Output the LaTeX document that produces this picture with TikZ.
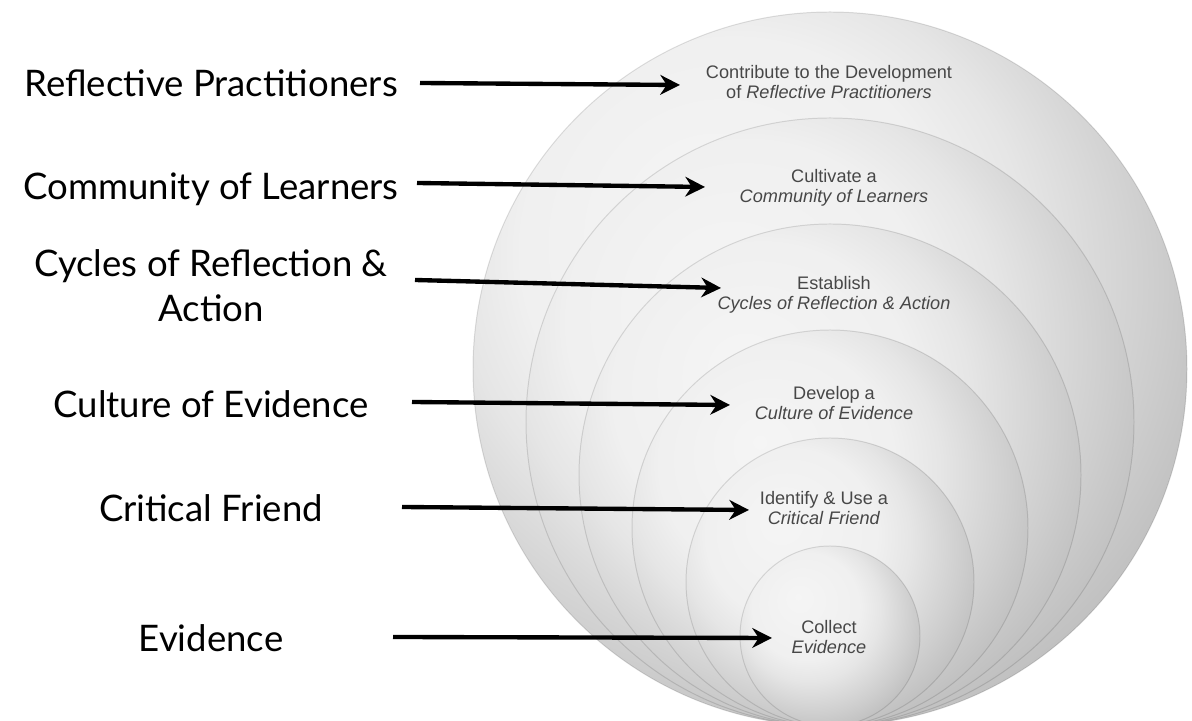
\documentclass[tikz,border=0pt]{standalone}
\usepackage{fontspec}
\setmainfont{Lato}
\newfontfamily\arialfont{Liberation Sans}
\usetikzlibrary{positioning,arrows.meta}
\pgfdeclareradialshading{orb}{\pgfpoint{-9bp}{11bp}}{color(0bp)=(black!4); color(15bp)=(black!6); color(20bp)=(black!10); color(27.5bp)=(black!19); color(36bp)=(black!30); color(42.5bp)=(black!36); color(60bp)=(black!38)}

\begin{document}
\begin{tikzpicture}[x=0.025cm,y=0.025cm,
    lbl/.style={font=\fontsize{26}{32}\selectfont, align=center, anchor=base},
    ring/.style={draw=black, draw opacity=0.12, line width=0.7pt, shading=orb},
    stage/.style={font=\arialfont\fontsize{12.9}{14}\selectfont, text=black!72, align=center},
    arr/.style={line width=3.1pt, -{Stealth[length=14pt,width=14pt]}}]
    \useasboundingbox (0,0) rectangle (1192,721);

    % Nested circles, touching at the bottom
    \foreach \r in {357,304,251,198,144,90}
        \shadedraw[ring] (830,\r-5) circle[radius=\r];

    % Stages inside the circles
    \node[stage] (dev) at (829,639) {Contribute to the Development\\of \textit{Reflective Practitioners}};
    \node[stage] (cult) at (834,533) {Cultivate a\\\textit{Community of Learners}};
    \node[stage] (est) at (834,426) {Establish\\\textit{Cycles of Reflection \& Action}};
    \node[stage] (cev) at (834,318) {Develop a\\\textit{Culture of Evidence}};
    \node[stage] (idf) at (824,213) {Identify \& Use a\\\textit{Critical Friend}};
    \node[stage] (col) at (829,84) {Collect\\\textit{Evidence}};

    % Labels on the left
    \node[lbl] (refl) at (211,624) {Reflective Practitioners};
    \node[lbl] (comm) at (211,521) {Community of Learners};
    \node[lbl] (cycl) at (211,399) {Cycles of Reflection \&\\Action};
    \node[lbl] (cult) at (211,303) {Culture of Evidence};
    \node[lbl] (crit) at (211,199) {Critical Friend};
    \node[lbl] (evid) at (211,69) {Evidence};

    % Arrows
    \coordinate (s1) at (420,638); \coordinate (e1) at (680,636);
    \coordinate (s2) at (417,538); \coordinate (e2) at (705,534);
    \coordinate (s3) at (415,441); \coordinate (e3) at (721,433);
    \coordinate (s4) at (412,319); \coordinate (e4) at (730,316);
    \coordinate (s5) at (402,214); \coordinate (e5) at (749,211);
    \coordinate (s6) at (393,84);  \coordinate (e6) at (772,83);
    \foreach \i in {1,...,6}
        \draw[arr] (s\i) -- (e\i);
\end{tikzpicture}
\end{document}
